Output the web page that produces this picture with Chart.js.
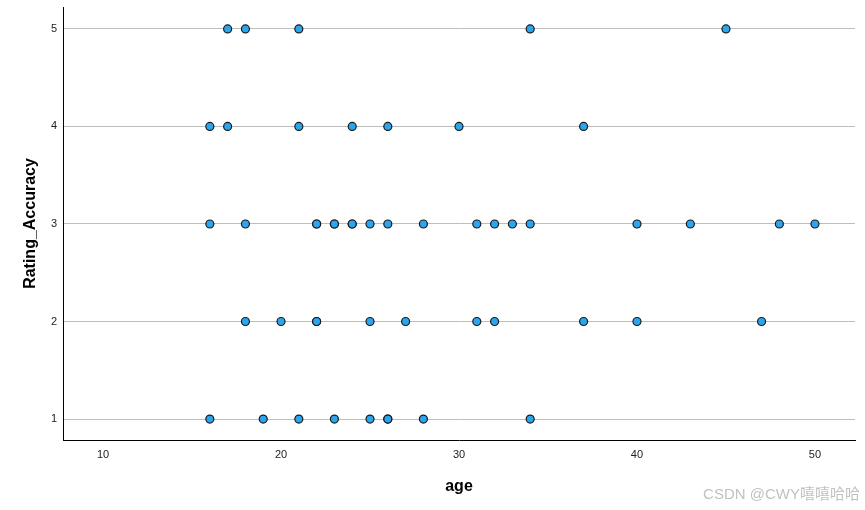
<!DOCTYPE html>
<html>
<head>
<meta charset="utf-8">
<script src="https://cdn.jsdelivr.net/npm/chart.js@4"></script>
<style>
  html, body { margin: 0; padding: 0; background: #fff; }
  #wrap { position: relative; width: 865px; height: 510px; }
  #wm { position: absolute; right: 5px; top: 484px; font-family: "Liberation Sans", "Noto Sans CJK SC", sans-serif; font-size: 15px; line-height: 20px; color: #c2c2c2; white-space: nowrap; }
</style>
</head>
<body>
<div id="wrap">
<canvas id="c" width="865" height="510"></canvas>
<div id="wm">CSDN @CWY嘻嘻哈哈</div>
</div>
<script>
// Data (age vs Rating_Accuracy)
const ages5 = [17, 18, 21, 34, 45];
const ages4 = [16, 17, 21, 24, 26, 30, 37];
const ages3 = [16, 18, 22, 22, 23, 23, 24, 24, 25, 26, 28, 31, 32, 33, 34, 40, 43, 48, 50];
const ages2 = [18, 20, 22, 22, 25, 27, 31, 32, 37, 40, 47];
const ages1 = [16, 19, 21, 23, 25, 26, 26, 28, 34];
const ratingLevels = [5, 4, 3, 2, 1];
const xTicks = [10, 20, 30, 40, 50];
const yTicks = [1, 2, 3, 4, 5];

const groups = [ages5, ages4, ages3, ages2, ages1];
const points = [];
groups.forEach((arr, i) => arr.forEach(a => points.push({ x: a, y: ratingLevels[i] })));

const tickFont = { family: "'Liberation Sans', Arial, sans-serif", size: 11 };
const titleFont = { family: "'Liberation Sans', Arial, sans-serif", size: 16, weight: 'bold' };

new Chart(document.getElementById('c'), {
  type: 'scatter',
  data: {
    datasets: [{
      data: points,
      backgroundColor: '#2ba6ee',
      borderColor: '#1a1a1a',
      borderWidth: 1.2,
      pointRadius: 4,
      pointHoverRadius: 4
    }]
  },
  options: {
    responsive: false,
    animation: false,
    layout: { padding: { top: 7, right: 10, left: 0, bottom: 0 } },
    plugins: { legend: { display: false }, tooltip: { enabled: false } },
    scales: {
      x: {
        type: 'linear',
        min: 7.75,
        max: 52.25,
        afterBuildTicks: s => { s.ticks = xTicks.map(v => ({ value: v })); },
        afterFit: s => { s.height = 70; s.paddingLeft = 0; s.paddingRight = 0; },
        grid: { display: false, drawTicks: false },
        border: { display: true, color: '#000', width: 1 },
        ticks: { color: '#222', font: tickFont, padding: 8, maxRotation: 0 },
        title: { display: true, text: 'age', color: '#000', font: titleFont, padding: { top: 0, bottom: 14 } }
      },
      y: {
        type: 'linear',
        min: 0.785,
        max: 5.225,
        afterBuildTicks: s => { s.ticks = yTicks.map(v => ({ value: v })); },
        afterFit: s => { s.width = 63; s.paddingTop = 0; s.paddingBottom = 0; },
        grid: { display: true, color: '#bdbdbd', lineWidth: 1, drawTicks: false },
        border: { display: true, color: '#000', width: 1 },
        ticks: { color: '#222', font: tickFont, padding: 6 },
        title: { display: true, text: 'Rating_Accuracy', color: '#000', font: titleFont, padding: { top: 21, bottom: 0 } }
      }
    }
  }
});
</script>
</body>
</html>
